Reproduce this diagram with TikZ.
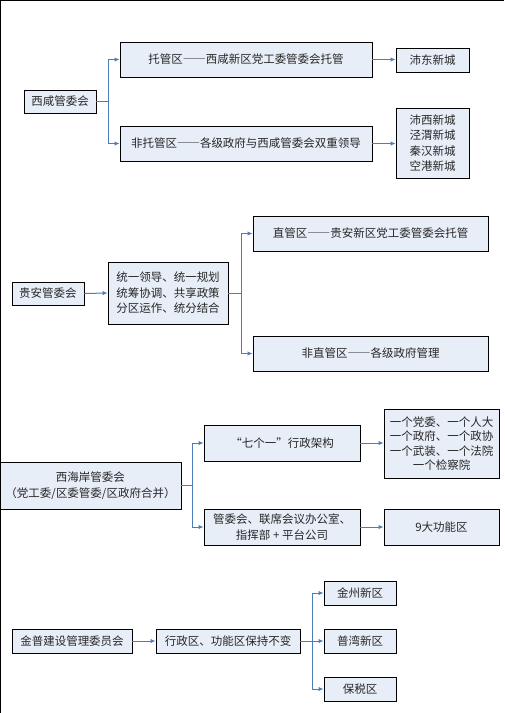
\documentclass[tikz,border=0pt]{standalone}
\usepackage{fontspec}
\setmainfont{Noto Sans CJK SC}
\newfontfamily\fwfont[RawFeature=+fwid]{Noto Sans CJK SC}
\newcommand\mydash{{\fwfont ——}}
\usetikzlibrary{arrows.meta}
\definecolor{boxfill}{HTML}{E8EEF8}
\definecolor{arrowblue}{HTML}{4A7EBB}
\tikzset{
  box/.style={draw=black, line width=0.9pt, fill=boxfill, inner sep=0pt, align=center,
    font=\fontsize{11.5}{15.5}\selectfont, text=black!85},
  conn/.style={draw=arrowblue, line width=1pt, -{Latex[length=5pt,width=4.5pt]}},
}
\begin{document}
\begin{tikzpicture}[x=1pt,y=-1pt]
\useasboundingbox (0,0) rectangle (504,713);
\fill[white] (0,0) rectangle (504,713);
\draw[line width=1.4pt] (0.7,713) -- (0.7,0.6) -- (504,0.6);

% Section 1
\node[box, minimum width=72, minimum height=23] (xx) at (60,101.5) {西咸管委会};
\node[box, minimum width=252, minimum height=35] (tg) at (246,59.5) {托管区\mydash 西咸新区党工委管委会托管};
\node[box, minimum width=73, minimum height=24] (pd) at (432.5,60) {沛东新城};
\node[box, minimum width=252, minimum height=35] (ftg) at (246,143.5) {非托管区\mydash 各级政府与西咸管委会双重领导};
\node[box, minimum width=73, minimum height=70] (px) at (432.5,143) {沛西新城\\泾渭新城\\秦汉新城\\空港新城};
\draw[conn] (xx.east) -- ++(12,0) |- (tg.west);
\draw[conn] (xx.east) -- ++(12,0) |- (ftg.west);
\draw[conn] (tg.east) -- (tg.east -| px.west);
\draw[conn] (ftg.east) -- (ftg.east -| px.west);

% Section 2
\node[box, minimum width=72, minimum height=23] (ga) at (48,293.5) {贵安管委会};
\node[box, minimum width=120, minimum height=62] (ty) at (168,293) {统一领导、统一规划\\统筹协调、共享政策\\分区运作、统分结合};
\node[box, minimum width=235, minimum height=35] (zg) at (370.5,233.5) {直管区\mydash 贵安新区党工委管委会托管};
\node[box, minimum width=235, minimum height=35] (fzg) at (370.5,353.5) {非直管区\mydash 各级政府管理};
\draw[conn] (ga.east) -- (ty.west);
\draw[conn] (ty.east) -- ++(13,0) |- (zg.west);
\draw[conn] (ty.east) -- ++(13,0) |- (fzg.west);

% Section 3
\node[box, minimum width=181, minimum height=47] (xha) at (90.5,485.5) {西海岸管委会\\（党工委/区委管委/区政府合并）};
\node[box, minimum width=156, minimum height=36] (qg) at (282,443) {{\fwfont “}七个一{\fwfont ”}行政架构};
\node[box, minimum width=156, minimum height=36] (gwh) at (282,527) {管委会、联席会议办公室、\\指挥部 + 平台公司};
\node[box, minimum width=115, minimum height=69, font=\fontsize{11.5}{14.3}\selectfont] (ygd) at (441.5,443.5) {一个党委、一个人大\\一个政府、一个政协\\一个武装、一个法院\\一个检察院};
\node[box, minimum width=115, minimum height=36] (jd) at (441.5,527) {9大功能区};
\draw[conn] (xha.east) -- ++(11,0) |- (qg.west);
\draw[conn] (xha.east) -- ++(11,0) |- (gwh.west);
\draw[conn] (qg.east) -- (qg.east -| ygd.west);
\draw[conn] (gwh.east) -- (jd.west);

% Section 4
\node[box, minimum width=120, minimum height=24] (jp) at (72,641) {金普建设管理委员会};
\node[box, minimum width=144, minimum height=24] (xzq) at (228,641) {行政区、功能区保持不变};
\node[box, minimum width=72, minimum height=24] (jz) at (360,593) {金州新区};
\node[box, minimum width=72, minimum height=24] (pw) at (360,641) {普湾新区};
\node[box, minimum width=72, minimum height=24] (bs) at (360,689) {保税区};
\draw[conn] (jp.east) -- (xzq.west);
\draw[conn] (xzq.east) -- ++(12,0) |- (jz.west);
\draw[conn] (xzq.east) -- (pw.west);
\draw[conn] (xzq.east) -- ++(12,0) |- (bs.west);
\end{tikzpicture}
\end{document}
